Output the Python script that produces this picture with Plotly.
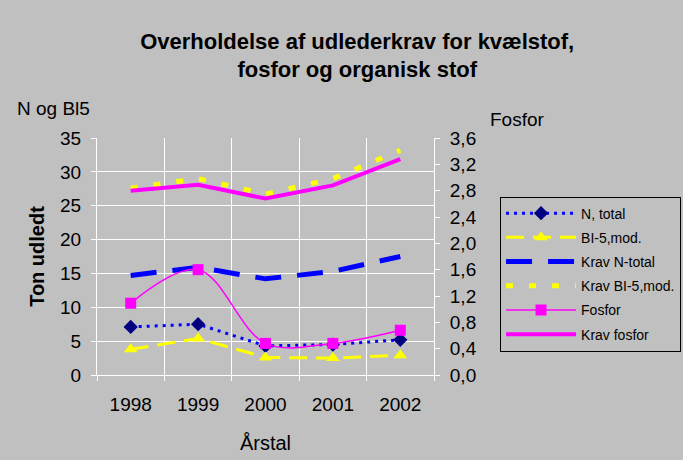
import plotly.graph_objects as go

years = ['1998', '1999', '2000', '2001', '2002']

# left axis (ton)
n_total = [7.1, 7.5, 4.3, 4.5, 5.2]
bi5_mod = [3.8, 5.4, 2.6, 2.5, 2.9]
krav_n_total = [14.7, 15.9, 14.2, 15.3, 17.5]
krav_bi5_mod = [27.6, 29.0, 26.7, 29.0, 33.2]

# right axis (fosfor)
fosfor = [1.09, 1.60, 0.48, 0.48, 0.68]
krav_fosfor = [2.80, 2.89, 2.68, 2.88, 3.28]

bg = '#C0C0C0'
font = 'Liberation Sans, Arial, sans-serif'

fig = go.Figure()

fig.add_trace(go.Scatter(x=years, y=n_total, name='N, total', mode='lines+markers',
                         line=dict(color='#0000FF', width=3, dash='3px,5px'),
                         marker=dict(symbol='diamond', color='#000080', size=11),
                         legendgroup='a'))
fig.add_trace(go.Scatter(x=years, y=bi5_mod, name='BI-5,mod.', mode='lines+markers',
                         line=dict(color='#FFFF00', width=3, dash='18px,9px'),
                         marker=dict(symbol='triangle-up', color='#FFFF00', size=12),
                         legendgroup='b'))
fig.add_trace(go.Scatter(x=years, y=krav_n_total, name='Krav N-total', mode='lines',
                         line=dict(color='#0000FF', width=5, dash='26px,16px'),
                         legendgroup='c'))
fig.add_trace(go.Scatter(x=years, y=krav_bi5_mod, name='Krav BI-5,mod.', mode='lines',
                         line=dict(color='#FFFF00', width=5, dash='7px,16px'),
                         legendgroup='d'))
fig.add_trace(go.Scatter(x=years, y=fosfor, name='Fosfor', mode='lines+markers', yaxis='y2',
                         line=dict(color='#FF00FF', width=1.5, shape='spline'),
                         marker=dict(symbol='square', color='#FF00FF', size=11),
                         legendgroup='e'))
fig.add_trace(go.Scatter(x=years, y=krav_fosfor, name='Krav fosfor', mode='lines', yaxis='y2',
                         line=dict(color='#FF00FF', width=4),
                         legendgroup='f'))

fig.update_layout(
    width=683, height=460,
    paper_bgcolor=bg, plot_bgcolor=bg,
    separators=',.',
    font=dict(family=font, size=19, color='black'),
    margin=dict(l=97, r=249, t=138, b=85, autoexpand=False),
    title=dict(text='<b>Overholdelse af udlederkrav for kvælstof,<br>fosfor og organisk stof</b>',
               x=0.523, xanchor='center', y=0.894, yanchor='middle',
               font=dict(size=22)),
    xaxis=dict(type='category', range=[-0.5, 4.5], tickson='boundaries',
               showgrid=True, gridcolor='white', gridwidth=1,
               showline=True, linecolor='white', ticks='outside', tickcolor='white', ticklen=5,
               ticklabelstandoff=12,
               title=dict(text='Årstal', standoff=22, font=dict(size=20))),
    yaxis=dict(range=[0, 35], dtick=5, showgrid=True, gridcolor='white', gridwidth=1,
               zeroline=False, showline=True, linecolor='white',
               ticks='outside', tickcolor='white', ticklen=5, ticklabelstandoff=6,
               title=dict(text='<b>Ton udledt</b>', standoff=10, font=dict(size=20))),
    yaxis2=dict(overlaying='y', side='right', range=[0, 3.6], dtick=0.4, tickformat='.1f',
                showgrid=False, zeroline=False, showline=True, linecolor='white',
                ticks='outside', tickcolor='white', ticklen=5, ticklabelstandoff=6),
    legend=dict(x=1.196, y=0.753, xanchor='left', yanchor='top',
                bgcolor=bg, bordercolor='black', borderwidth=1,
                font=dict(size=14), traceorder='grouped', tracegroupgap=3,
                itemwidth=70),
    annotations=[
        dict(text='N og Bl5', xref='paper', yref='paper', x=-0.243, y=1.123,
             xanchor='left', yanchor='middle', showarrow=False, font=dict(size=19)),
        dict(text='Fosfor', xref='paper', yref='paper', x=1.160, y=1.076,
             xanchor='left', yanchor='middle', showarrow=False, font=dict(size=19)),
    ],
)

# the page body has a default 8px margin; drop it so the chart sits at the window corner
fig.write_html('out.html', config={'displayModeBar': False},
               post_script="document.body.style.margin='0';")
